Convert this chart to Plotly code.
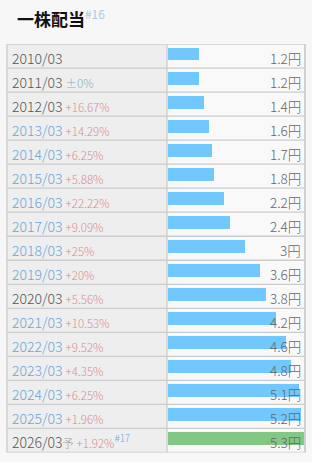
import plotly.graph_objects as go

# ---- data ----
years = ["2010/03", "2011/03", "2012/03", "2013/03", "2014/03", "2015/03", "2016/03",
         "2017/03", "2018/03", "2019/03", "2020/03", "2021/03", "2022/03", "2023/03",
         "2024/03", "2025/03", "2026/03"]
dividends = [1.2, 1.2, 1.4, 1.6, 1.7, 1.8, 2.2, 2.4, 3.0, 3.6, 3.8, 4.2, 4.6, 4.8, 5.1, 5.2, 5.3]
changes = ["", "±0%", "+16.67%", "+14.29%", "+6.25%", "+5.88%", "+22.22%", "+9.09%", "+25%",
           "+20%", "+5.56%", "+10.53%", "+9.52%", "+4.35%", "+6.25%", "+1.96%", "+1.92%"]
linked = [False, False, False, True, True, True, True, True, True, True, False, True, True,
          True, True, True, False]
forecast = [False] * 16 + [True]
title = "一株配当"
title_note = "#16"
forecast_note = "#17"
unit = "円"

# ---- style ----
W, H = 312, 462
TL, TM, TR = 7, 167, 305          # table left / divider / right (px)
TT, TB = 44, 452.5                 # table top / bottom (px)
BAR_L, BAR_R = 168, 304
FONT = "Noto Sans CJK JP, Noto Sans, sans-serif"
BLUE_BAR = "#70c8fe"
GREEN_BAR = "#80c884"
DARK = "#555555"
LINK = "#6aa5da"
PCT = "#dd8a8f"
ZERO = "#86aeb8"
BORDER = "#cccccc"

def px(xp):
    return xp / W

def py(yp):
    return 1 - yp / H

n = len(years)
rows = list(range(n))

fig = go.Figure()
fig.add_trace(go.Bar(
    x=dividends, y=rows, orientation="h",
    marker=dict(color=[GREEN_BAR if f else BLUE_BAR for f in forecast], line=dict(width=0)),
    width=0.54, offset=-0.354, hoverinfo="skip", showlegend=False,
))

shapes = []
shapes.append(dict(type="rect", xref="paper", yref="paper", x0=px(TL), x1=px(TM),
                   y0=py(TB), y1=py(TT), fillcolor="#eeeeee", line=dict(width=0), layer="below"))
shapes.append(dict(type="rect", xref="paper", yref="paper", x0=px(TM), x1=px(TR),
                   y0=py(TB), y1=py(TT), fillcolor="#f9f9f9", line=dict(width=0), layer="below"))
for i in range(n + 1):
    shapes.append(dict(type="line", xref="paper", yref="y", x0=px(TL), x1=px(TR),
                       y0=i - 0.5, y1=i - 0.5, line=dict(color=BORDER, width=1.3), layer="below"))
for xv, lw in [(TL, 1.3), (TM, 1.3), (TR, 1.8)]:
    shapes.append(dict(type="line", xref="paper", yref="paper", x0=px(xv), x1=px(xv),
                       y0=py(TB), y1=py(TT), line=dict(color=BORDER, width=lw), layer="below"))

annotations = []
annotations.append(dict(
    xref="paper", yref="paper", x=px(15), y=py(3), xanchor="left", yanchor="top",
    text=f"<b>{title}</b><sup><span style='color:#a9c7e6'>{title_note}</span></sup>",
    showarrow=False, font=dict(family=FONT, size=17, color="#111111"),
))
for i in rows:
    col = LINK if linked[i] else DARK
    txt = f"<span style='color:{col}'>{years[i]}</span>"
    if forecast[i]:
        txt += "<span style='color:#999999;font-size:11px'>予</span>"
    if changes[i]:
        c = ZERO if changes[i].startswith("±") else PCT
        txt += f" <span style='color:{c};font-size:11.5px'>{changes[i]}</span>"
    if forecast[i]:
        txt += f"<sup><span style='color:{LINK}'>{forecast_note}</span></sup>"
    annotations.append(dict(
        xref="paper", yref="y", x=px(10), y=i, xanchor="left", yanchor="middle",
        yshift=-1.5, text=txt, showarrow=False,
        font=dict(family=FONT, size=14, color=DARK, weight=300),
    ))
    vtxt = f"{dividends[i]:g}{unit}"
    if forecast[i]:
        vtxt = "<span style='color:#c98a7a;font-size:9px'>*</span>" + vtxt
    annotations.append(dict(
        xref="paper", yref="y", x=px(302.5), y=i, xanchor="right", yanchor="middle",
        yshift=-1.5, text=vtxt, showarrow=False,
        font=dict(family=FONT, size=13.5, color="#666666", weight=300),
    ))

fig.update_layout(
    width=W, height=H, autosize=False,
    margin=dict(l=0, r=0, t=0, b=0, pad=0),
    paper_bgcolor="#f7f7f7", plot_bgcolor="rgba(0,0,0,0)",
    xaxis=dict(domain=[px(BAR_L), px(BAR_R)], range=[0, max(dividends)], visible=False,
               fixedrange=True),
    yaxis=dict(domain=[py(TB), py(TT)], range=[n - 0.5, -0.5], visible=False, fixedrange=True),
    shapes=shapes, annotations=annotations, bargap=0, showlegend=False,
)

fig.write_html("out.html", config={"displayModeBar": False})
